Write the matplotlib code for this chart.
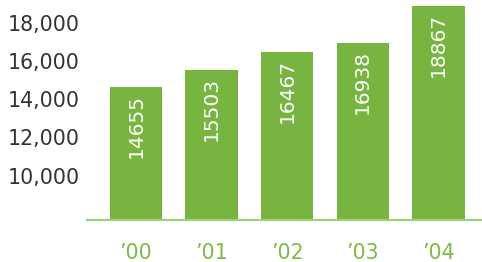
import matplotlib.pyplot as plt

# values
years = ['\u201900', '\u201901', '\u201902', '\u201903', '\u201904']
values = [14655, 15503, 16467, 16938, 18867]
yticks = [10000, 12000, 14000, 16000, 18000]

bar_green = '#78b540'
line_green = '#9fd07c'
label_green = '#7cba45'
grey = '#333333'

plt.rcParams['font.family'] = ['DejaVu Sans']

fig = plt.figure(figsize=(4.82, 2.62), dpi=100)
ax = fig.add_axes([87 / 482, 42.5 / 262, 395 / 482, 219.5 / 262])

x = list(range(len(values)))
ax.bar(x, values, width=0.695, color=bar_green, bottom=0)

# value labels inside bars, rotated
for xi, v in zip(x, values):
    ax.annotate(str(v), (xi, v), xytext=(0, -5), textcoords='offset points',
                rotation=90, ha='center', va='top', color='white', fontsize=14.5)

ax.set_xlim(-0.648, 4.577)
ax.set_ylim(7700, 19190)

ax.set_yticks(yticks)
ax.set_yticklabels([f'{t:,}' for t in yticks], color=grey, fontsize=14.8)
ax.tick_params(axis='y', length=0, pad=5)

ax.set_xticks(x)
ax.set_xticklabels(years, color=label_green, fontsize=14.8)
ax.tick_params(axis='x', length=0, pad=17)

for side in ['top', 'right', 'left']:
    ax.spines[side].set_visible(False)
ax.spines['bottom'].set_color(line_green)
ax.spines['bottom'].set_linewidth(1.6)

fig.savefig('out.png', dpi=100)
